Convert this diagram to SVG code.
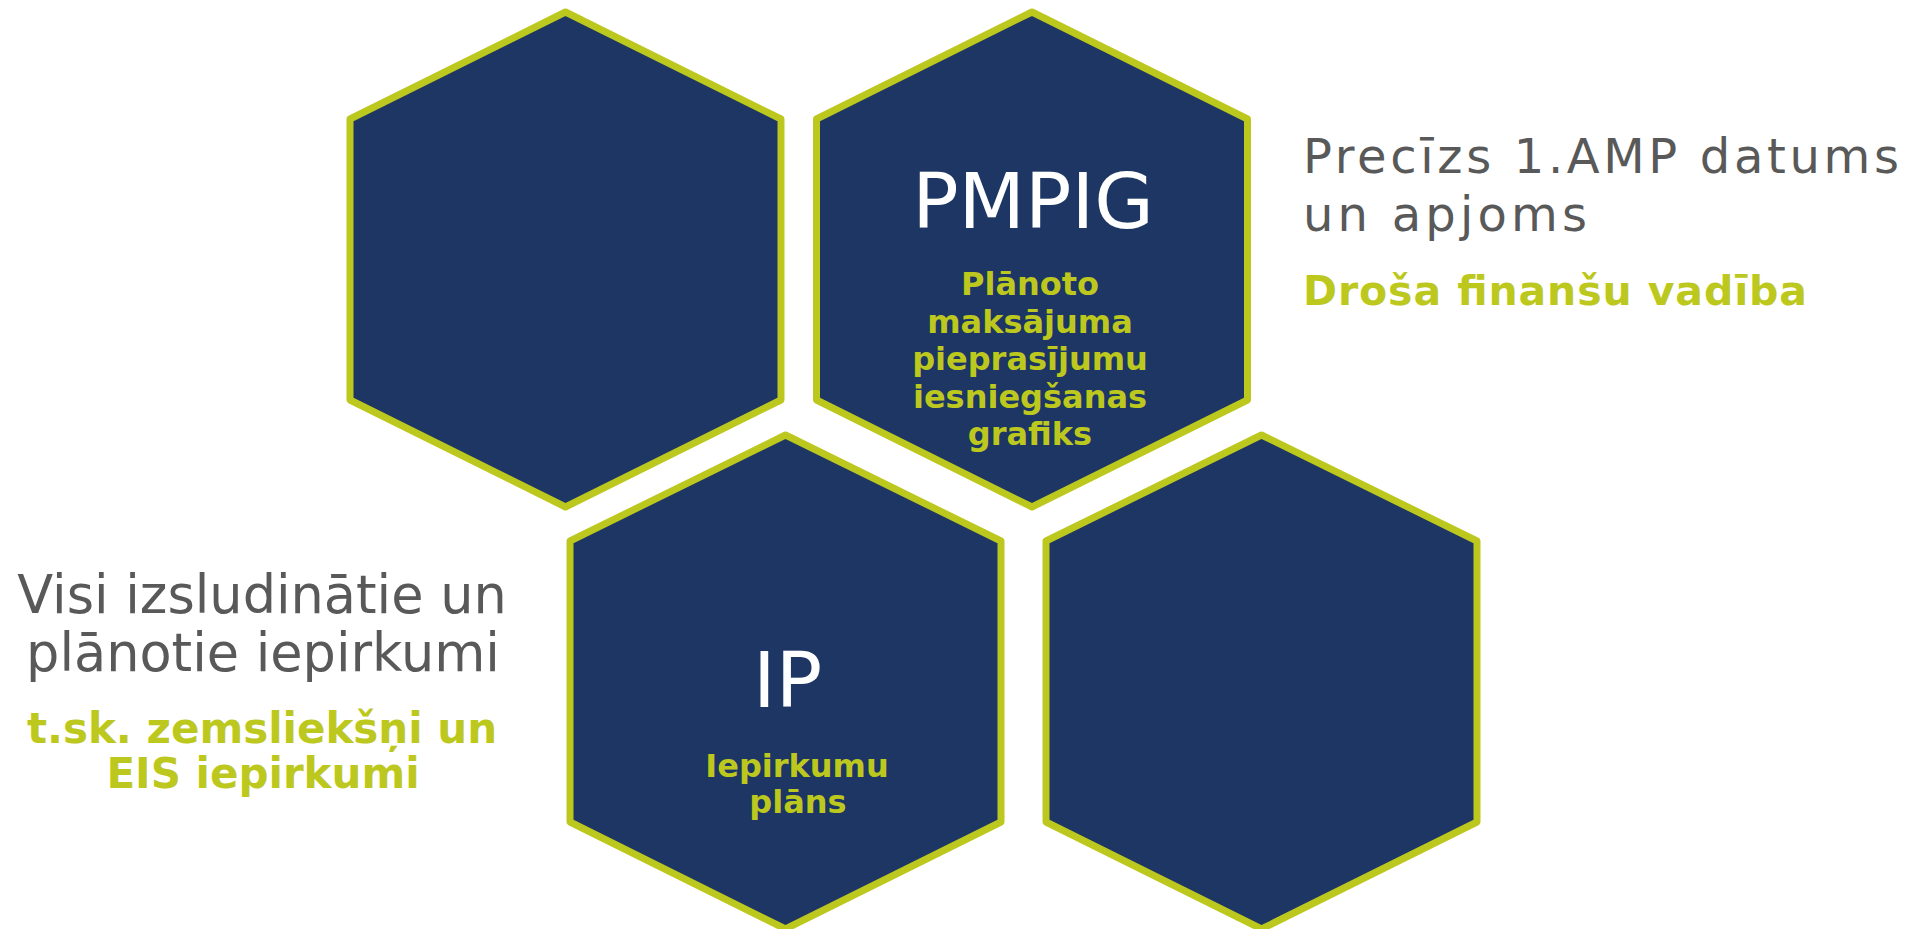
<svg xmlns="http://www.w3.org/2000/svg" width="1908" height="929" viewBox="0 0 1908 929">
<style>
.hex{fill:#1D3664;stroke:#BCC81E;stroke-width:7;stroke-linejoin:round}
.big{font-family:"DejaVu Sans",Verdana,sans-serif;fill:#FFFFFF;font-size:77px;text-anchor:middle}
.sub{font-family:"DejaVu Sans",Verdana,sans-serif;font-weight:bold;fill:#BDC81E;font-size:32px;text-anchor:middle}
.gray{font-family:"DejaVu Sans",Verdana,sans-serif;fill:#595959}
.grn{font-family:"DejaVu Sans",Verdana,sans-serif;font-weight:bold;fill:#BDC81E}
</style>
<rect width="1908" height="929" fill="#FFFFFF"/>
<g id="hex-top-left">
<polygon class="hex" points="565.5,12 781,119 781,400 565.5,507 350,400 350,119"/>
</g>
<g id="hex-pmpig">
<polygon class="hex" points="1032,12 1247.5,119 1247.5,400 1032,507 816.5,400 816.5,119"/>
<text class="big" x="1033" y="228">PMPIG</text>
<text class="sub" x="1030" y="295">Plānoto</text>
<text class="sub" x="1030" y="333">maksājuma</text>
<text class="sub" x="1030" y="370">pieprasījumu</text>
<text class="sub" x="1030" y="408">iesniegšanas</text>
<text class="sub" x="1030" y="445">grafiks</text>
</g>
<g id="hex-ip">
<polygon class="hex" points="785.5,435 1001,541 1001,822 785.5,929 570,822 570,541"/>
<text class="big" x="787.5" y="707">IP</text>
<text class="sub" x="797" y="777">Iepirkumu</text>
<text class="sub" x="798" y="813">plāns</text>
</g>
<g id="hex-bottom-right">
<polygon class="hex" points="1261.5,435 1477,541 1477,822 1261.5,929 1046,822 1046,541"/>
</g>
<g id="note-right">
<text class="gray" x="1303" y="173" font-size="48" textLength="596" lengthAdjust="spacing">Precīzs 1.AMP datums</text>
<text class="gray" x="1303" y="231" font-size="48" textLength="284" lengthAdjust="spacing">un apjoms</text>
<text class="grn" x="1303" y="305" font-size="41" textLength="504" lengthAdjust="spacing">Droša finanšu vadība</text>
</g>
<g id="note-left">
<text class="gray" x="262" y="613" font-size="52.5" text-anchor="middle">Visi izsludinātie un</text>
<text class="gray" x="263" y="671" font-size="52.5" text-anchor="middle">plānotie iepirkumi</text>
<text class="grn" x="262" y="743" font-size="42" text-anchor="middle">t.sk. zemsliekšņi un</text>
<text class="grn" x="263" y="788" font-size="42" text-anchor="middle">EIS iepirkumi</text>
</g>
<g id="connectors"></g>
</svg>
